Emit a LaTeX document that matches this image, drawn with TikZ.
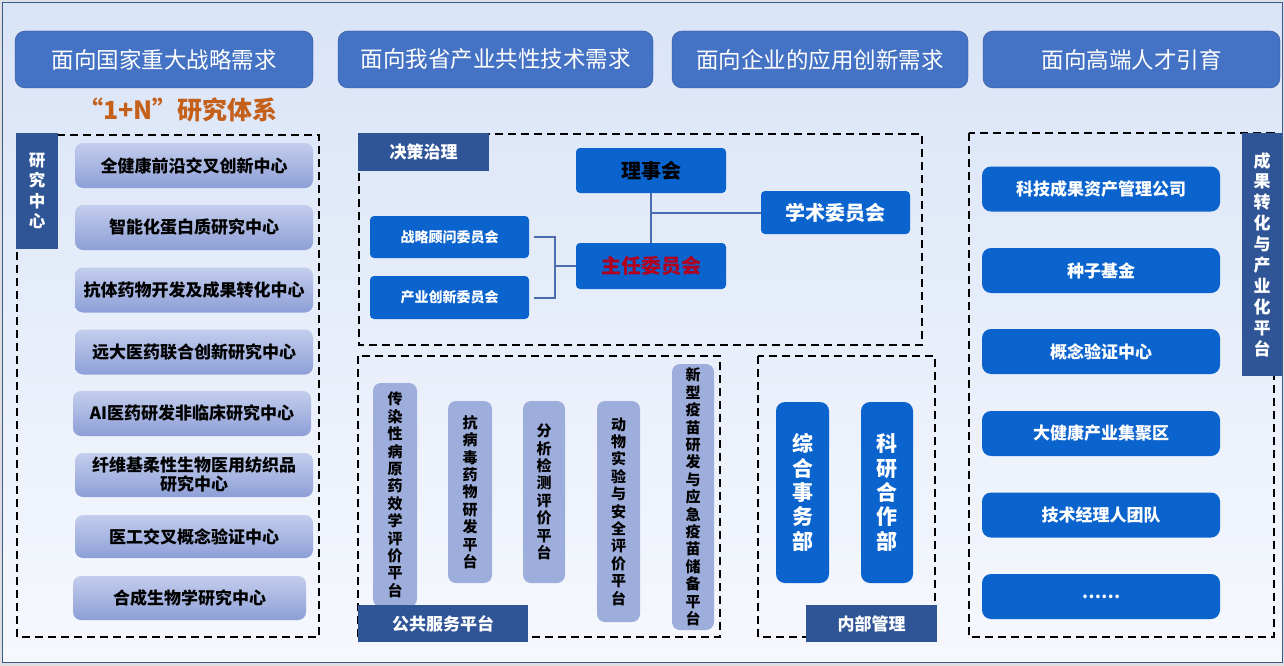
\documentclass[tikz,border=0pt]{standalone}
\usepackage{fontspec}
\setmainfont{Noto Sans CJK SC}

\definecolor{needblue}{HTML}{4472C4}
\definecolor{needline}{HTML}{2F528F}
\definecolor{tagblue}{HTML}{2F5597}
\definecolor{itemblue}{HTML}{0B63CE}
\definecolor{paleitem}{HTML}{9EAEDC}
\definecolor{gradtop}{HTML}{C3CDEC}
\definecolor{gradbot}{HTML}{8D9FD7}
\definecolor{titleorange}{HTML}{C5601A}
\definecolor{linkblue}{HTML}{4A6DAF}
\definecolor{bgtop}{HTML}{D9E4F7}
\definecolor{bgbot}{HTML}{F6F8FD}
\definecolor{frameline}{HTML}{3B5B8F}
\definecolor{chairred}{HTML}{B0001E}

\begin{document}
\begin{tikzpicture}[x=1pt,y=-1pt,
  need/.style={draw=needline,fill=needblue,rounded corners=10pt,text=white,inner sep=0pt,
    font=\fontsize{22.5}{26}\selectfont},
  panel/.style={line width=1.8pt,dash pattern=on 8pt off 5pt},
  tag/.style={fill=tagblue,text=white,inner sep=0pt,align=center,
    font=\bfseries\fontsize{17}{20}\selectfont},
  centre/.style={rounded corners=8pt,top color=gradtop,bottom color=gradbot,inner sep=0pt,
    align=center,minimum width=238pt,minimum height=45pt,
    font=\bfseries\fontsize{17}{19}\selectfont},
  board/.style={fill=itemblue,rounded corners=4pt,inner sep=0pt,
    font=\bfseries\fontsize{20}{24}\selectfont},
  platform/.style={fill=paleitem,rounded corners=8pt,inner sep=0pt,align=center,
    font=\bfseries\fontsize{15}{17.4}\selectfont},
  dept/.style={fill=itemblue,text=white,rounded corners=9pt,inner sep=0pt,align=center,
    font=\bfseries\fontsize{21}{24.4}\selectfont},
  transfer/.style={fill=itemblue,text=white,rounded corners=9pt,inner sep=0pt,
    minimum width=238pt,minimum height=45pt,font=\bfseries\fontsize{17}{20}\selectfont},
  link/.style={linkblue,line width=2pt}]

\useasboundingbox (0,0) rectangle (1284,666) ;
\fill [gray!25] (0,0) rectangle (1284,666) ;
\draw [frameline, top color=bgtop, bottom color=bgbot] (2,2) rectangle (1282,662) ;

\node [need, minimum width=298pt, minimum height=57pt] (need1) at (164,59.5) {面向国家重大战略需求} ;
\node [need, minimum width=315pt, minimum height=57pt] (need2) at (495.5,59.5) {面向我省产业共性技术需求} ;
\node [need, minimum width=296pt, minimum height=57pt] (need3) at (820,59.5) {面向企业的应用创新需求} ;
\node [need, minimum width=297pt, minimum height=57pt] (need4) at (1131.5,59.5) {面向高端人才引育} ;

\node [text=titleorange, font=\bfseries\fontsize{25}{28}\selectfont] (system) at (178,110) {“1+N”研究体系} ;

\draw [panel] (17,135) rectangle (319,637) ;
\draw [panel] (359,134) rectangle (922,345) ;
\draw [panel] (358,356) rectangle (720,637) ;
\draw [panel] (758,356) rectangle (935,637) ;
\draw [panel] (969,133) rectangle (1274,637) ;

\node [tag, minimum width=42pt, minimum height=116pt, font=\bfseries\fontsize{16.5}{20.5}\selectfont] (centres) at (37,191) {研\\究\\中\\心} ;

\node [centre] (c1) at (194,165.5) {全健康前沿交叉创新中心} ;
\node [centre] (c2) at (194,227.5) {智能化蛋白质研究中心} ;
\node [centre] (c3) at (194,290) {抗体药物开发及成果转化中心} ;
\node [centre] (c4) at (194,352) {远大医药联合创新研究中心} ;
\node [centre] (c5) at (192,413.5) {AI医药研发非临床研究中心} ;
\node [centre, minimum height=44pt] (c6) at (194,475) {纤维基柔性生物医用纺织品\\研究中心} ;
\node [centre, minimum height=43pt] (c7) at (194,536.5) {医工交叉概念验证中心} ;
\node [centre, minimum width=233pt, minimum height=44pt] (c8) at (189.5,598) {合成生物学研究中心} ;

\node [tag, minimum width=131pt, minimum height=38pt] (govern) at (423.5,152) {决策治理} ;

\node [board, minimum width=150pt, minimum height=45pt] (lishi) at (651,170.5) {理事会} ;
\node [board, text=white, minimum width=149pt, minimum height=43pt] (xueshu) at (835.5,212.5) {学术委员会} ;
\node [board, text=chairred, minimum width=150pt, minimum height=46pt] (zhuren) at (651,266) {主任委员会} ;
\node [board, text=white, minimum width=159pt, minimum height=42pt, font=\bfseries\fontsize{14}{16}\selectfont] (zhanlue) at (449.5,237) {战略顾问委员会} ;
\node [board, text=white, minimum width=159pt, minimum height=43pt, font=\bfseries\fontsize{14}{16}\selectfont] (chanye) at (449.5,297.5) {产业创新委员会} ;

\coordinate (brk) at (555,266) ;
\draw [link] (lishi) -- (zhuren) ;
\draw [link] (xueshu.west) -- (xueshu.west -| lishi.south) ;
\draw [link] ([xshift=5pt]zhanlue.east) -| (brk) |- ([xshift=5pt]chanye.east) ;
\draw [link] (brk) -- (zhuren.west) ;

\node [platform, minimum width=44pt, minimum height=224pt] (p1) at (395,495) {传\\染\\性\\病\\原\\药\\效\\学\\评\\价\\平\\台} ;
\node [platform, minimum width=44pt, minimum height=182pt] (p2) at (470,492) {抗\\病\\毒\\药\\物\\研\\发\\平\\台} ;
\node [platform, minimum width=42pt, minimum height=182pt] (p3) at (544,492) {分\\析\\检\\测\\评\\价\\平\\台} ;
\node [platform, minimum width=43pt, minimum height=221pt] (p4) at (618.5,511.5) {动\\物\\实\\验\\与\\安\\全\\评\\价\\平\\台} ;
\node [platform, minimum width=42pt, minimum height=266pt] (p5) at (693,497) {新\\型\\疫\\苗\\研\\发\\与\\应\\急\\疫\\苗\\储\\备\\平\\台} ;

\node [tag, minimum width=170pt, minimum height=37pt] (public) at (443,623.5) {公共服务平台} ;

\node [dept, minimum width=53pt, minimum height=181pt] (affairs) at (802.5,492.5) {综\\合\\事\\务\\部} ;
\node [dept, minimum width=52pt, minimum height=181pt] (research) at (887,492.5) {科\\研\\合\\作\\部} ;

\node [tag, minimum width=131pt, minimum height=37pt] (inner) at (871.5,623.5) {内部管理} ;

\node [tag, minimum width=40pt, minimum height=243pt, font=\bfseries\fontsize{17}{20.9}\selectfont] (industry) at (1262,254.5) {成\\果\\转\\化\\与\\产\\业\\化\\平\\台} ;

\node [transfer] (t1) at (1101,189) {科技成果资产管理公司} ;
\node [transfer] (t2) at (1101,270.5) {种子基金} ;
\node [transfer] (t3) at (1101,351.5) {概念验证中心} ;
\node [transfer] (t4) at (1101,433.5) {大健康产业集聚区} ;
\node [transfer] (t5) at (1101,515) {技术经理人团队} ;
\node [transfer] (t6) at (1101,596.5) {……} ;

\end{tikzpicture}
\end{document}
